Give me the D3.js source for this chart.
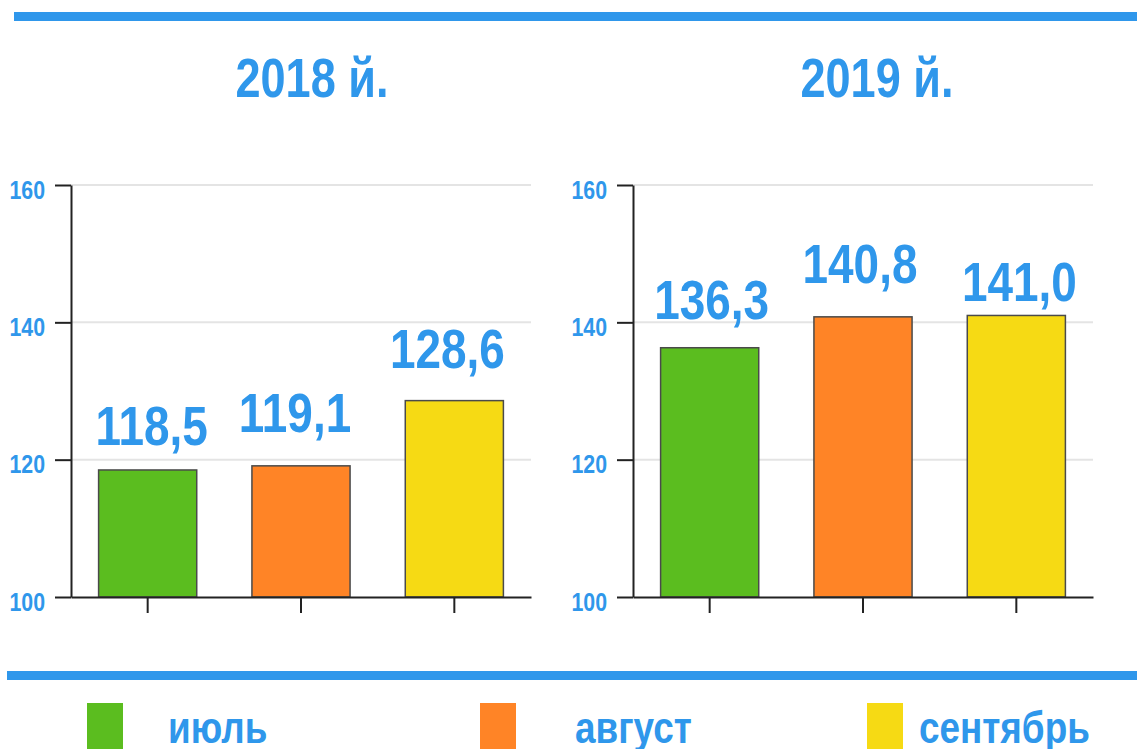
<!DOCTYPE html>
<html>
<head>
<meta charset="utf-8">
<script src="https://cdnjs.cloudflare.com/ajax/libs/d3/7.8.5/d3.min.js"></script>
<style>
  body { margin: 0; background: #fff; }
  svg { display: block; }
  .narrow { font-family: "Liberation Sans", Arial, sans-serif; font-weight: bold; }
</style>
</head>
<body>
<div id="chart"></div>
<script>
const months = ['июль', 'август', 'сентябрь'];
const years = ['2018 й.', '2019 й.'];
const values2018 = [118.5, 119.1, 128.6];
const values2019 = [136.3, 140.8, 141.0];
const yTicks = [100, 120, 140, 160];
const colors = ['#5bbd1f', '#ff8426', '#f6da14'];

const blue = '#2f97eb';
const W = 1137, H = 749;
const squeeze = 0.82; // the original uses a narrow face, fake it

let svg = d3.select('#chart').append('svg')
  .attr('width', W)
  .attr('height', H);

const narrow = (sel, x, y) => sel.attr('class', 'narrow')
  .attr('transform', `translate(${x},${y}) scale(${squeeze},1)`);

// blue rules top and bottom
svg.append('rect').attr('x', 14).attr('y', 12).attr('width', W - 14).attr('height', 9).attr('fill', blue);
svg.append('rect').attr('x', 7).attr('y', 671).attr('width', W - 7).attr('height', 9).attr('fill', blue);

const y = d3.scaleLinear().domain([100, 160]).range([597, 185]);

// labels in the source were nudged by hand
const panels = [
  { title: years[0], values: values2018, x0: 71, titleX: 312, dx: [4, -6, -7], gap: [25, 34, 33] },
  { title: years[1], values: values2019, x0: 633, titleX: 877, dx: [2, -3, 3], gap: [29, 34, 14] }
];

panels.forEach(p => {
  let g = svg.append('g');
  let x = d3.scaleBand().domain(months).range([p.x0, p.x0 + 460]).paddingInner(0.36).paddingOuter(0.18);

  g.append('text')
    .call(narrow, p.titleX, 97)
    .attr('text-anchor', 'middle')
    .attr('font-size', 55)
    .attr('fill', blue)
    .text(p.title);

  // grid
  g.selectAll('line.grid')
    .data(yTicks.slice(1))
    .join('line')
    .attr('class', 'grid')
    .attr('x1', p.x0)
    .attr('x2', p.x0 + 460)
    .attr('y1', d => y(d))
    .attr('y2', d => y(d))
    .attr('stroke', '#e4e4e4')
    .attr('stroke-width', 2);

  // bars
  g.selectAll('rect.bar')
    .data(p.values)
    .join('rect')
    .attr('class', 'bar')
    .attr('x', (d, i) => x(months[i]))
    .attr('width', x.bandwidth())
    .attr('y', d => y(d))
    .attr('height', d => y(100) - y(d))
    .attr('fill', (d, i) => colors[i])
    .attr('stroke', '#4a4a4a')
    .attr('stroke-width', 1.5);

  g.selectAll('text.val')
    .data(p.values)
    .join('text')
    .each(function(d, i) {
      d3.select(this).call(narrow, x(months[i]) + x.bandwidth() / 2 + p.dx[i], y(d) - p.gap[i]);
    })
    .attr('text-anchor', 'middle')
    .attr('font-size', 56)
    .attr('fill', blue)
    .text(d => d3.format('.1f')(d).replace('.', ','));

  // axes
  let yAxis = g.append('g')
    .attr('transform', `translate(${p.x0},0)`)
    .call(d3.axisLeft(y).tickValues(yTicks).tickSize(16).tickSizeOuter(0));
  let xAxis = g.append('g')
    .attr('transform', `translate(0,${y(100)})`)
    .call(d3.axisBottom(x).tickSize(16).tickSizeOuter(0).tickFormat(''));

  [yAxis, xAxis].forEach(a => {
    a.select('.domain').attr('stroke', '#222').attr('stroke-width', 2);
    a.selectAll('.tick line').attr('stroke', '#222').attr('stroke-width', 2);
  });
  yAxis.selectAll('.tick text')
    .attr('x', null)
    .attr('dy', null)
    .call(narrow, -26, 13)
    .attr('font-size', 26)
    .attr('fill', blue);
});

// legend
const legendX = [87, 480, 867];
const legendTextX = [168, 575, 919];
let legend = svg.append('g');
legend.selectAll('rect')
  .data(months)
  .join('rect')
  .attr('x', (d, i) => legendX[i])
  .attr('y', 703)
  .attr('width', 36)
  .attr('height', 46)
  .attr('fill', (d, i) => colors[i]);
legend.selectAll('text')
  .data(months)
  .join('text')
  .each(function(d, i) { d3.select(this).call(narrow, legendTextX[i], 743); })
  .attr('font-size', 45)
  .attr('fill', blue)
  .text(d => d);
</script>
</body>
</html>
